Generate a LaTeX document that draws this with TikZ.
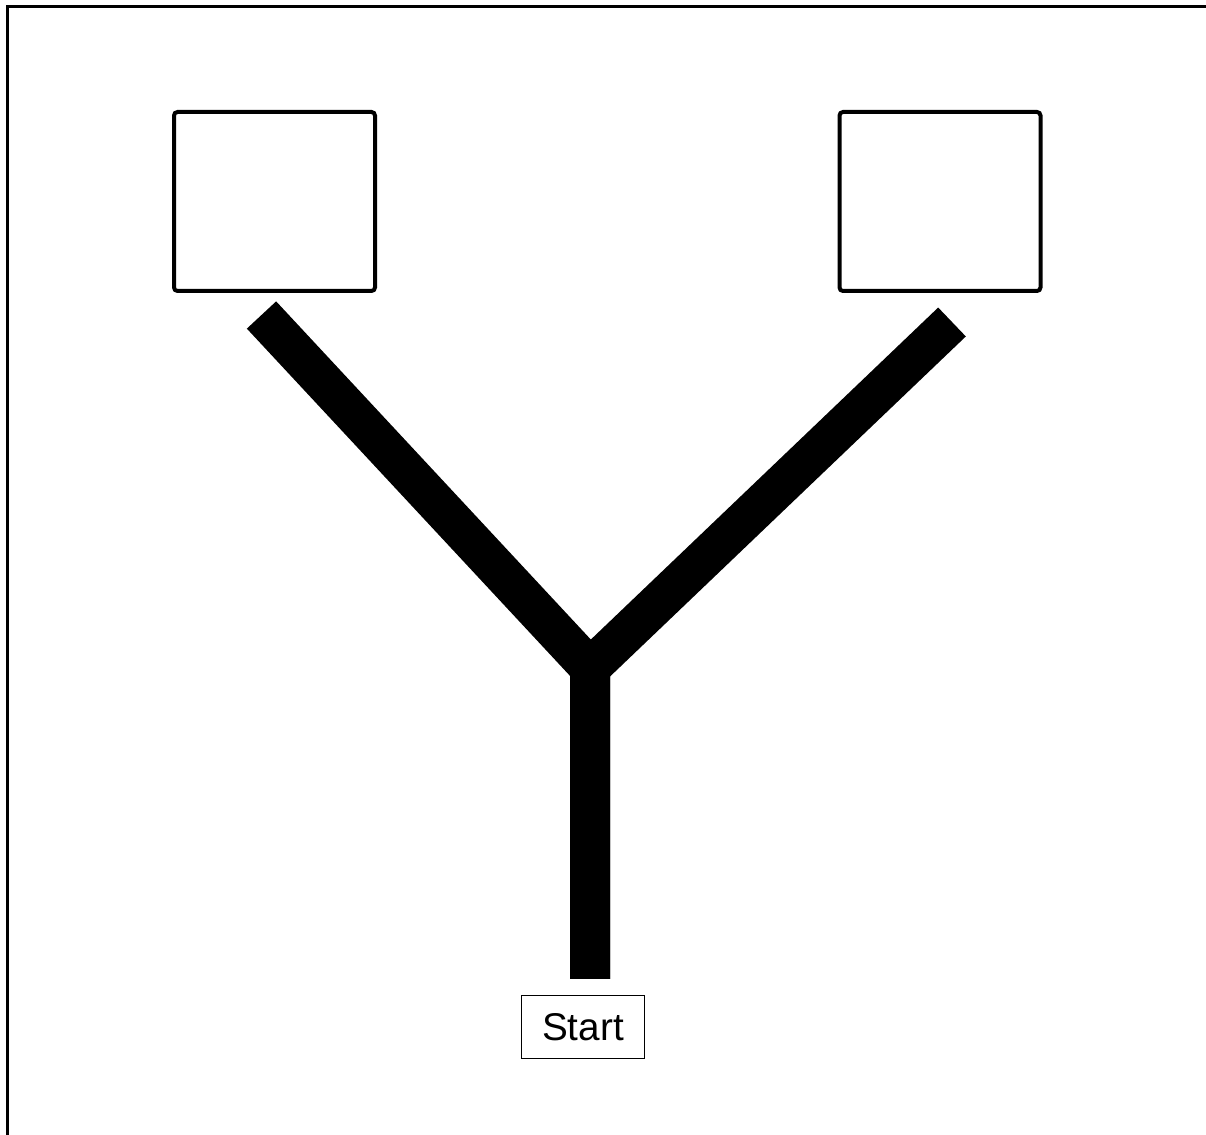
\documentclass[tikz,border=0pt]{standalone}
\usepackage{fontspec}
\setmainfont{Liberation Sans}
\usepackage{tikz}
\usetikzlibrary{positioning}

\begin{document}
\begin{tikzpicture}[
  font=\fontsize{11}{13}\selectfont,
  target/.style={draw=black, line width=0.04cm, rounded corners=1pt,
                 minimum width=2.01cm, minimum height=1.79cm, inner sep=0pt},
  startbox/.style={draw=black, line width=0.5pt, minimum width=1.23cm,
                   minimum height=0.63cm, inner sep=0pt},
  trunk/.style={line width=0.4cm, black, line join=miter, line cap=butt},
  frame/.style={line width=0.03cm, black},
]
\useasboundingbox (0,0) rectangle (12.06,-11.35);

% ── open frame: top and left edge only ──────────────────────────────────────
\draw[frame] (12.06,-0.07) -- (0.075,-0.07) -- (0.075,-11.35);

\node[target]   (lbox)  at (2.745,-2.015) {};
\node[target]   (rbox)  at (9.40,-2.015)  {};
\node[startbox] (start) at (5.83,-10.27)  {Start};

% ── the fork: stem from start, two arms up to the boxes ─────────────────────
\coordinate (fork) at (5.90,-6.68);
\coordinate (lend) at (2.615,-3.15);
\coordinate (rend) at (9.52,-3.22);
\coordinate (send) at (5.90,-9.79);

\draw[trunk] (lend) -- (fork) -- (send);
\draw[trunk] (rend) -- (fork) -- (send);
\end{tikzpicture}
\end{document}
